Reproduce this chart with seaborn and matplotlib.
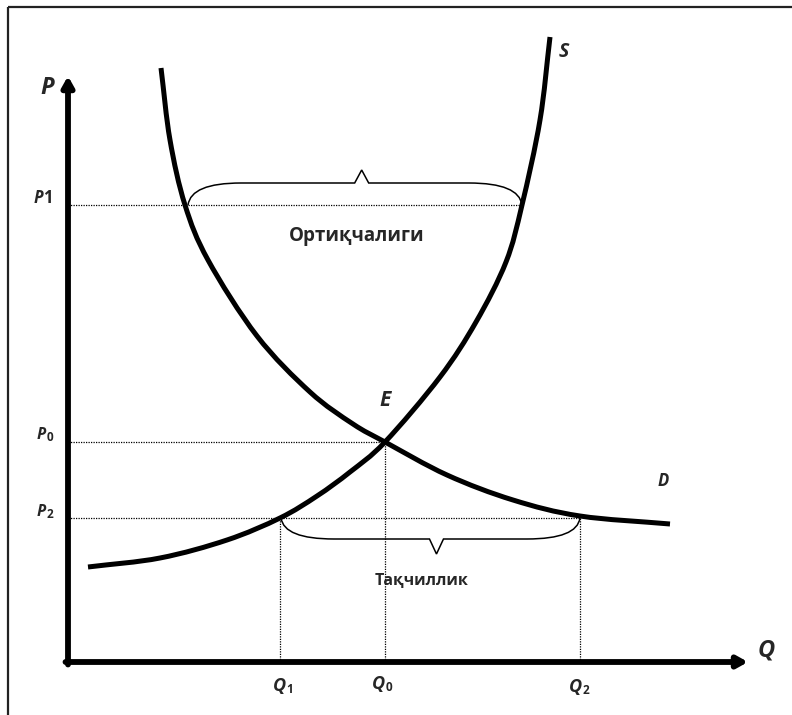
import numpy as np
import matplotlib
matplotlib.use("Agg")
import matplotlib.pyplot as plt
from matplotlib.path import Path
from matplotlib.patches import PathPatch
import seaborn as sns

# supply / demand curves (Q, P)
supply_q = [2.0, 9.2, 15.9, 21.2, 24.9, 28.2, 31.7, 37.2, 40.8, 43.8, 45.4, 47.2, 48.2]
supply_p = [9.5, 10.4, 12.2, 14.4, 16.6, 19.0, 22.0, 28.5, 34.0, 40.0, 45.7, 54.2, 62.5]
demand_q = [9.3, 10.2, 11.7, 14.0, 18.9, 24.2, 28.5, 31.7, 37.9, 44.5, 51.2, 60.2]
demand_p = [59.4, 52.2, 45.7, 40.2, 32.6, 27.0, 23.8, 22.0, 18.7, 16.2, 14.6, 13.8]

# key levels
q_levels = {"Q1": 21.2, "Q0": 31.7, "Q2": 51.2}
p_levels = {"P1": 45.7, "P0": 22.0, "P2": 14.4}
surplus_q = [11.8, 45.4]   # demand / supply at P1
shortage_q = [21.2, 51.2]  # supply / demand at P2

surplus_text = "Ортиқчалиги"
shortage_text = "Тақчиллик"

sns.set_theme(style="white")
plt.rcParams["font.family"] = ["Open Sans", "DejaVu Sans"]

fig = plt.figure(figsize=(7.92, 7.15), dpi=100)
ax = fig.add_axes([0, 0, 1, 1])
ax.axis("off")

# frame (only top and left visible)
ax.plot([-6.0, -6.0], [-5.3, 65.5], color="#222222", lw=1.6, solid_capstyle="butt")
ax.plot([-6.0, 72.4], [65.5, 65.5], color="#222222", lw=1.6, solid_capstyle="butt")

# axes with arrows
arrow = dict(arrowstyle="-|>,head_length=0.5,head_width=0.28", lw=4.2, color="black",
             shrinkA=0, shrinkB=0, mutation_scale=12)
ax.annotate("", xy=(0, 58.6), xytext=(0, -0.25), arrowprops=arrow)
ax.annotate("", xy=(68.0, 0), xytext=(-0.25, 0), arrowprops=arrow)

# dotted guide lines
dot = dict(color="black", lw=0.9, linestyle=(0, (1, 1)))
ax.plot([0, surplus_q[1]], [p_levels["P1"]] * 2, **dot)
ax.plot([0, q_levels["Q0"]], [p_levels["P0"]] * 2, **dot)
ax.plot([0, shortage_q[1]], [p_levels["P2"]] * 2, **dot)
ax.plot([q_levels["Q0"]] * 2, [0, p_levels["P0"]], **dot)
ax.plot([q_levels["Q1"]] * 2, [0, p_levels["P2"]], **dot)
ax.plot([q_levels["Q2"]] * 2, [0, p_levels["P2"]], **dot)


def smooth_curve(xs, ys, lw):
    # draw a smooth line through the points (Catmull-Rom as cubic beziers)
    pts = np.column_stack([xs, ys]).astype(float)
    ext = np.vstack([2 * pts[0] - pts[1], pts, 2 * pts[-1] - pts[-2]])
    verts = [tuple(pts[0])]
    codes = [Path.MOVETO]
    for i in range(1, len(ext) - 2):
        c1 = ext[i] + (ext[i + 1] - ext[i - 1]) / 6
        c2 = ext[i + 1] - (ext[i + 2] - ext[i]) / 6
        verts += [tuple(c1), tuple(c2), tuple(ext[i + 1])]
        codes += [Path.CURVE4] * 3
    ax.add_patch(PathPatch(Path(verts, codes), fill=False, lw=lw, color="black",
                           capstyle="butt", joinstyle="round"))


# seaborn places the points on the axes, the smooth path is drawn over them
sns.lineplot(x=supply_q, y=supply_p, sort=False, estimator=None, lw=0, ax=ax)
sns.lineplot(x=demand_q, y=demand_p, sort=False, estimator=None, lw=0, ax=ax)
smooth_curve(supply_q, supply_p, 3.6)
smooth_curve(demand_q, demand_p, 3.6)
ax.set_xlim(-6.8, 72.4)
ax.set_ylim(-5.3, 66.2)


def brace(x0, x1, y, h, tip, sign):
    # curly brace from x0 to x1 at level y
    yb = y + sign * h
    xm = x0 + (x1 - x0) * 0.52
    r = 5.3
    verts = [(x0, y), (x0 + 0.3, yb), (x0 + r, yb),
             (xm - 0.7, yb), (xm, yb + sign * tip), (xm + 0.7, yb),
             (x1 - r, yb), (x1 - 0.3, yb), (x1, y)]
    codes = [Path.MOVETO, Path.CURVE3, Path.CURVE3,
             Path.LINETO, Path.LINETO, Path.LINETO,
             Path.LINETO, Path.CURVE3, Path.CURVE3]
    ax.add_patch(PathPatch(Path(verts, codes), fill=False, lw=1.1, color="black"))


brace(surplus_q[0] + 0.2, surplus_q[1], p_levels["P1"], 2.2, 1.3, 1)
brace(shortage_q[0] + 0.1, shortage_q[1], p_levels["P2"], 2.1, 1.5, -1)

# labels
big = dict(fontweight="bold", fontstyle="italic", ha="center", va="center")
ax.text(-2.1, 57.4, "P", fontsize=17, **big)
ax.text(69.8, 1.2, "Q", fontsize=17, **big)
ax.text(49.6, 61.0, "S", fontsize=14, **big)
ax.text(59.5, 18.1, "D", fontsize=12, **big)
ax.text(31.7, 26.2, "E", fontsize=15, **big)


def sub_label(x, y, main, sub, size, sub_size, dy):
    ax.text(x, y, main, fontsize=size, fontweight="bold", fontstyle="italic",
            ha="right", va="baseline")
    ax.annotate(sub, (x, y), xytext=(0.3, dy), textcoords="offset points",
                fontsize=sub_size, fontweight="bold", ha="left", va="baseline")


sub_label(-2.5, 45.9, "P", "1", 12, 12, 0)
sub_label(-2.2, 22.3, "P", "0", 11.5, 8.5, -1.5)
sub_label(-2.2, 14.6, "P", "2", 11.5, 8.5, -1.5)
sub_label(21.8, -2.9, "Q", "1", 13, 8.5, -1.5)
sub_label(31.7, -2.7, "Q", "0", 13, 8.5, -1.5)
sub_label(51.4, -3.0, "Q", "2", 13, 8.5, -1.5)

ax.text(28.9, 42.6, surplus_text, fontsize=13.5, fontweight="bold", ha="center", va="center")
ax.text(35.4, 8.1, shortage_text, fontsize=11.5, fontweight="bold", ha="center", va="center")

fig.savefig("out.png", dpi=100)
